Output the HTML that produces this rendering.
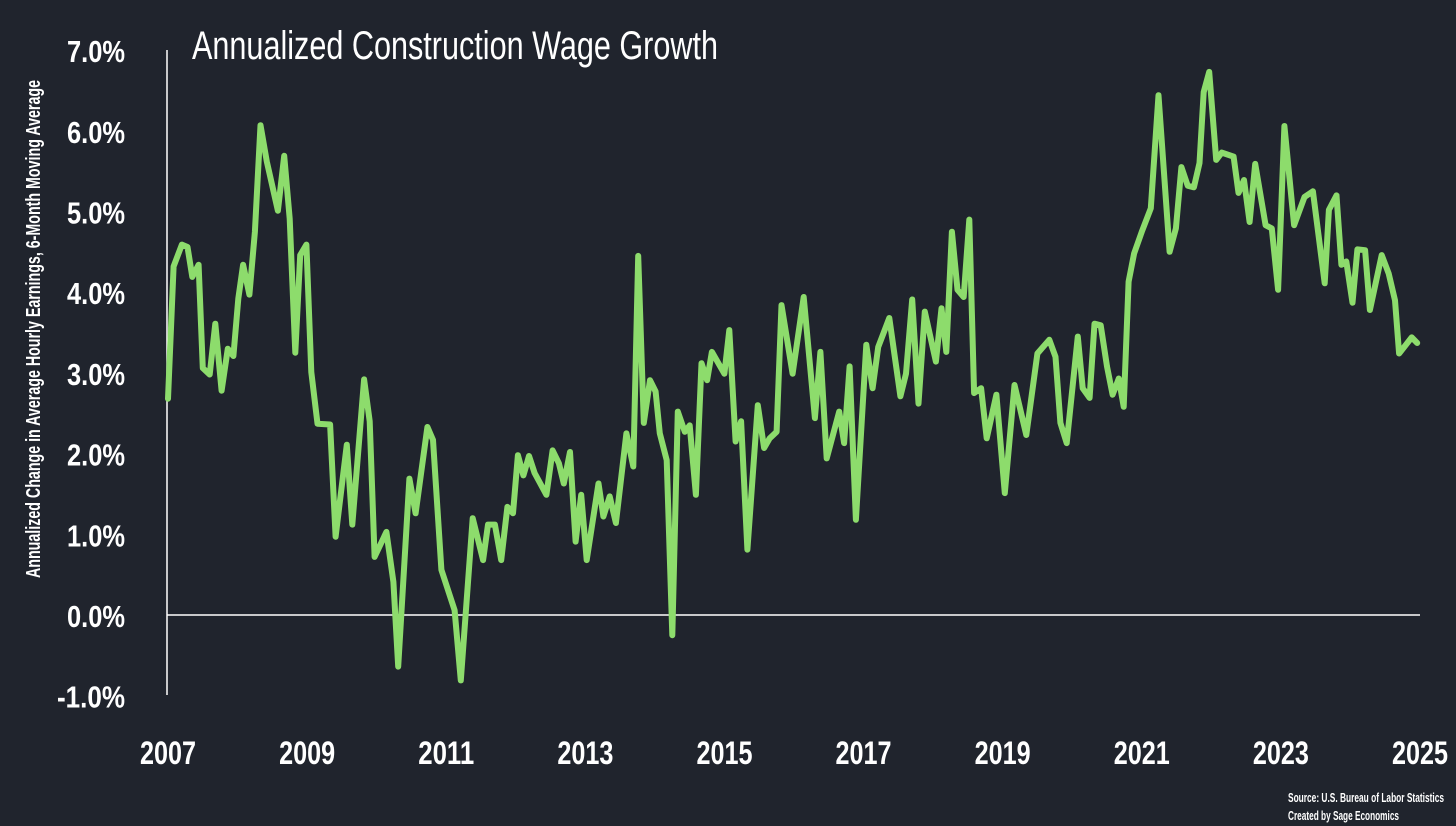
<!DOCTYPE html>
<html><head><meta charset="utf-8"><style>
html,body{margin:0;padding:0;background:#20242d;}
svg{display:block;}
text{font-family:"Liberation Sans",sans-serif;fill:#fff;}
</style></head><body>
<svg id="chart" width="1456" height="826" viewBox="0 0 1456 826">
<rect x="0" y="0" width="1456" height="826" fill="#20242d"/>
<text x="192" y="59" font-size="40" textLength="526" lengthAdjust="spacingAndGlyphs">Annualized Construction Wage Growth</text>
<text transform="translate(40,329) rotate(-90)" text-anchor="middle" font-size="20" font-weight="bold" textLength="498" lengthAdjust="spacingAndGlyphs">Annualized Change in Average Hourly Earnings, 6-Month Moving Average</text>
<g id="yticks"></g><g id="xticks"></g>
<line x1="167" y1="50" x2="167" y2="695" stroke="#fff" stroke-width="1.5"/>
<line x1="167" y1="615" x2="1420" y2="615" stroke="#fff" stroke-width="1.5"/>
<path id="series" fill="none" stroke="#8ddc6c" stroke-width="6" stroke-linejoin="round" stroke-linecap="round"/>
<text x="1288" y="802" font-size="13" font-weight="bold" textLength="156" lengthAdjust="spacingAndGlyphs">Source: U.S. Bureau of Labor Statistics</text>
<text x="1288" y="820" font-size="13" font-weight="bold" textLength="111" lengthAdjust="spacingAndGlyphs">Created by Sage Economics</text>
</svg>
<script>
const yTickValues=[7,6,5,4,3,2,1,0,-1];
const yTickLabels=["7.0%","6.0%","5.0%","4.0%","3.0%","2.0%","1.0%","0.0%","-1.0%"];
const xTickValues=[2007,2009,2011,2013,2015,2017,2019,2021,2023,2025];
const xTickLabels=["2007","2009","2011","2013","2015","2017","2019","2021","2023","2025"];
const dates=[2007.00,2007.08,2007.20,2007.28,2007.35,2007.44,2007.50,2007.60,2007.68,2007.77,2007.86,2007.94,2008.01,2008.08,2008.17,2008.25,2008.33,2008.42,2008.58,2008.67,2008.75,2008.83,2008.90,2008.99,2009.06,2009.15,2009.33,2009.41,2009.57,2009.65,2009.82,2009.90,2009.97,2010.14,2010.24,2010.31,
2010.47,2010.56,2010.73,2010.81,2010.93,2011.12,2011.21,2011.38,2011.53,2011.60,2011.70,2011.79,2011.88,2011.96,2012.03,2012.11,2012.19,2012.27,2012.44,2012.53,2012.62,2012.69,2012.78,2012.86,2012.94,2013.02,2013.19,2013.26,2013.35,2013.44,2013.59,2013.69,2013.76,2013.84,2013.93,2014.01,2014.07,2014.17,2014.25,2014.33,2014.43,2014.50,2014.59,2014.67,
2014.75,2014.82,2015.00,2015.07,2015.16,2015.24,2015.33,2015.48,2015.57,2015.65,2015.75,2015.82,2015.98,2016.14,2016.30,2016.38,2016.47,2016.65,2016.72,2016.80,2016.89,2017.04,2017.13,2017.21,2017.37,2017.53,2017.61,2017.70,2017.79,2017.88,2018.04,2018.12,2018.19,2018.27,2018.35,2018.44,2018.52,2018.59,2018.69,2018.77,2018.91,
2019.03,2019.17,2019.34,2019.50,2019.67,2019.76,2019.83,2019.92,2020.08,2020.15,2020.25,2020.32,2020.41,2020.50,2020.58,2020.67,2020.74,2020.81,2020.89,2021.00,2021.13,2021.24,2021.40,2021.49,2021.57,2021.66,2021.75,2021.83,2021.89,2021.97,2022.07,2022.15,2022.32,2022.39,2022.47,2022.55,2022.63,2022.78,2022.87,2022.96,2023.05,2023.19,2023.34,2023.46,2023.63,2023.69,2023.80,2023.87,2023.94,2024.03,2024.10,2024.21,2024.28,2024.45,2024.55,2024.64,2024.70,2024.88,2024.96];
const values=[2.68,4.32,4.59,4.56,4.19,4.34,3.06,2.98,3.61,2.78,3.30,3.21,3.92,4.34,3.97,4.75,6.07,5.62,5.01,5.69,4.91,3.25,4.46,4.59,3.01,2.37,2.36,0.97,2.11,1.12,2.92,2.40,0.72,1.03,0.41,-0.64,
1.69,1.26,2.33,2.17,0.56,0.06,-0.81,1.20,0.68,1.12,1.12,0.68,1.34,1.26,1.98,1.73,1.97,1.76,1.49,2.04,1.88,1.63,2.02,0.91,1.49,0.68,1.63,1.22,1.47,1.14,2.25,1.84,4.45,2.38,2.91,2.77,2.25,1.92,-0.25,2.52,2.27,2.35,1.49,3.12,
2.91,3.26,2.99,3.53,2.15,2.40,0.81,2.60,2.07,2.19,2.27,3.84,2.99,3.94,2.44,3.26,1.94,2.52,2.13,3.08,1.18,3.35,2.81,3.32,3.68,2.71,2.99,3.91,2.62,3.76,3.14,3.80,3.26,4.75,4.03,3.94,4.90,2.75,2.81,2.19,2.73,
1.51,2.85,2.23,3.24,3.41,3.20,2.38,2.13,3.45,2.81,2.69,3.61,3.59,3.08,2.73,2.93,2.58,4.13,4.48,4.75,5.04,6.44,4.50,4.79,5.55,5.32,5.30,5.60,6.48,6.73,5.64,5.73,5.68,5.23,5.39,4.87,5.59,4.83,4.79,4.03,6.06,4.83,5.18,5.25,4.11,5.02,5.20,4.34,4.38,3.87,4.53,4.52,3.78,4.46,4.23,3.90,3.24,3.44,3.37];

const X0=168,X1=1420,Y0=615,PX=80.7;
function xs(d){return X0+(d-2007)/(2025-2007)*(X1-X0);}
function ys(v){return Y0-v*PX;}
const NS="http://www.w3.org/2000/svg";
const yg=document.getElementById('yticks');
yTickValues.forEach((v,i)=>{
  const t=document.createElementNS(NS,'text');
  
  
  t.setAttribute('x',125);t.setAttribute('y',ys(v)+12);
  t.setAttribute('text-anchor','end');t.setAttribute('font-size','31');t.setAttribute('font-weight','bold');
  t.setAttribute('textLength',yTickLabels[i].length>4?68:58);t.setAttribute('lengthAdjust','spacingAndGlyphs');
  t.textContent=yTickLabels[i];yg.appendChild(t);
});
const xg=document.getElementById('xticks');
xTickValues.forEach((v,i)=>{
  const t=document.createElementNS(NS,'text');
  
  
  t.setAttribute('x',xs(v)-28);t.setAttribute('y',764);
  t.setAttribute('font-size','32');t.setAttribute('font-weight','bold');
  t.setAttribute('textLength',56);t.setAttribute('lengthAdjust','spacingAndGlyphs');
  t.textContent=xTickLabels[i];xg.appendChild(t);
});
document.getElementById('series').setAttribute('d',dates.map((d,i)=>(i?'L':'M')+xs(d).toFixed(1)+','+ys(values[i]).toFixed(1)).join(''));
</script>
</body></html>
